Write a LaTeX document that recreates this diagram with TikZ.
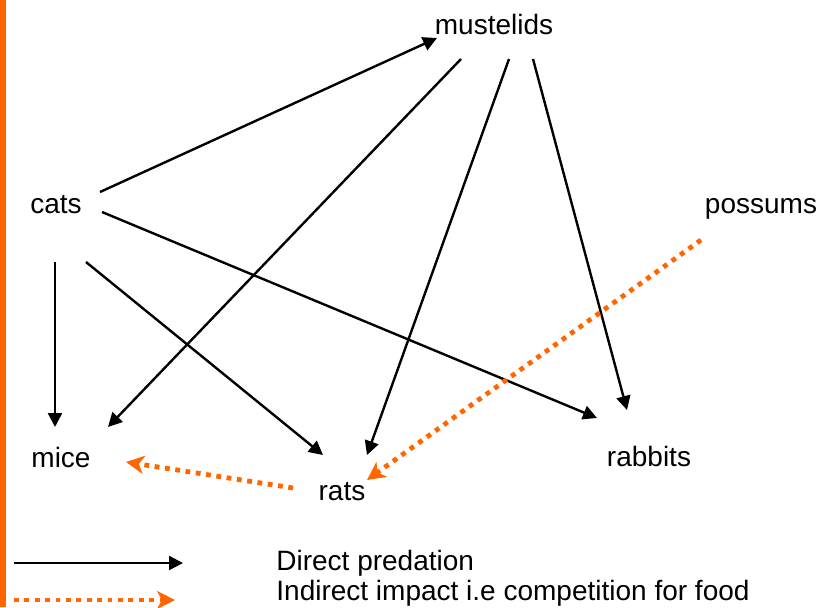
\documentclass[tikz,border=0pt]{standalone}
\usepackage{fontspec}
\setmainfont{Liberation Sans}
\usetikzlibrary{arrows.meta}
\definecolor{impactcol}{RGB}{255,102,0}
\tikzstyle{animal}=[inner sep=0pt,font=\fontsize{14}{16}\selectfont]
\tikzstyle{pred}=[-{Triangle[length=7pt,width=7pt]},line width=1.2pt,black]
\tikzstyle{impact}=[-{Stealth[length=9pt,width=9pt,inset=2.5pt]},line width=2.4pt,
impactcol,dash pattern=on 2.4pt off 2.8pt]

\begin{document}
\begin{tikzpicture}[x=0.5pt,y=-0.5pt]
  \useasboundingbox (0,0) rectangle (822,607);
  \fill[impactcol] (0,0) rectangle (6,607);
  % Animals
  \node[animal] (mustelids) at (494,24) {mustelids};
  \node[animal] (cats) at (56,205) {cats};
  \node[animal] (possums) at (761,209) {possums};
  \node[animal] (mice) at (61,457) {mice};
  \node[animal] (rats) at (342,492) {rats};
  \node[animal] (rabbits) at (649,456) {rabbits};
  % Predation
  \draw[pred] ([shift={(44,-13)}]cats.center) -- ([shift={(-57,14)}]mustelids.center);
  \draw[pred] ([shift={(-33,35)}]mustelids.center) -- ([shift={(47,-30)}]mice.center);
  \draw[pred] ([shift={(15,35)}]mustelids.center) -- ([shift={(25,-37)}]rats.center);
  \draw[pred] ([shift={(39,35)}]mustelids.center) -- ([shift={(-22,-46)}]rabbits.center);
  \draw[pred] ([shift={(-1,57)}]cats.center) -- ([shift={(-6,-30)}]mice.center);
  \draw[pred] ([shift={(30,57)}]cats.center) -- ([shift={(-19,-37)}]rats.center);
  \draw[pred] ([shift={(46,7)}]cats.center) -- ([shift={(-52,-38)}]rabbits.center);
  % Competition
  \draw[impact] ([shift={(-60,31)}]possums.center) -- ([shift={(25,-12)}]rats.center);
  \draw[impact] ([shift={(-49,-4)}]rats.center) -- ([shift={(65,5)}]mice.center);
  % Legend
  \coordinate (predA) at (14,563);
  \coordinate (predB) at (183,563);
  \coordinate (impactA) at (14,600);
  \coordinate (impactB) at (175,600);
  \draw[pred] (predA) -- (predB);
  \draw[impact] (impactA) -- (impactB);
  \node[animal,anchor=west] (predtext) at (276,563) {Direct predation};
  \node[animal,anchor=west] (impacttext) at (276,593) {Indirect impact i.e competition for food};
\end{tikzpicture}
\end{document}
